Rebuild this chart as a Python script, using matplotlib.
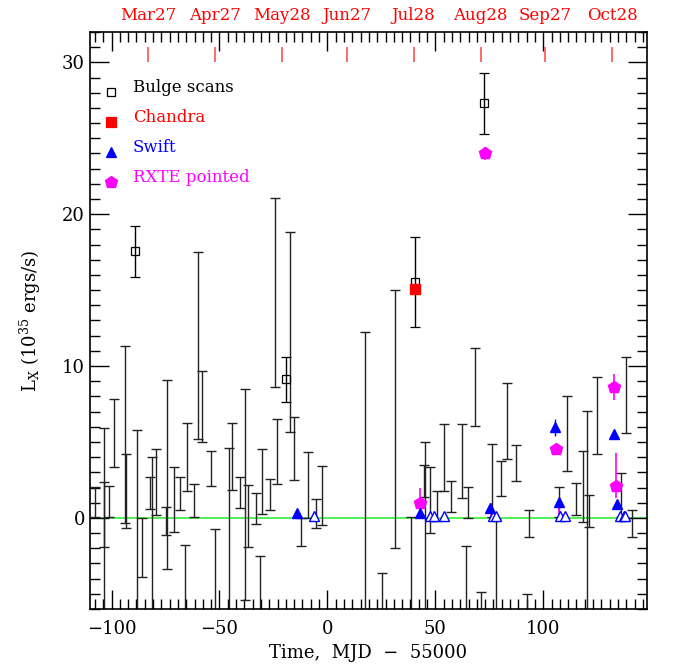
import numpy as np
import matplotlib
matplotlib.use('Agg')
import matplotlib.pyplot as plt
from matplotlib.ticker import MultipleLocator

plt.rcParams['font.family'] = 'DejaVu Serif'
plt.rcParams['mathtext.fontset'] = 'dejavuserif'

# bulge scan upper limits / detections without marker: (time, low, high)
bar_t = [-107.9, -103.7, -103.5, -101.4, -99.1, -94.0, -93.3, -88.1, -86.1, -82.3,
         -81.2, -79.2, -74.2, -75.0, -71.2, -68.1, -66.1, -65.0, -61.6, -59.9,
         -58.0, -54.0, -51.9, -45.4, -44.1, -40.6, -38.0, -36.9, -33.0, -30.2,
         -31.0, -26.4, -23.3, -24.4, -17.4, -15.3, -12.2, -8.9, -5.1, -2.3,
         17.6, 25.3, 31.5, 38.8, 45.4, 44.6, 47.7, 50.8, 53.8, 57.4,
         62.4, 65.1, 64.4, 68.3, 71.3, 76.3, 78.2, 80.4, 83.2, 87.4,
         92.7, 93.2, 107.1, 111.0, 115.0, 118.4, 120.2, 121.1, 125.1, 136.0,
         138.3, 141.3]
bar_hi = [2.06, 5.90, 2.35, 2.11, 7.83, 11.34, 4.21, 5.79, 0.02, 2.70,
          3.99, 4.52, 9.08, 0.70, 3.34, 2.72, -1.76, 6.23, 2.24, 17.5,
          9.67, 4.39, -0.74, 4.59, 6.25, 2.72, 8.49, 2.15, 1.63, 4.52,
          -2.48, 2.59, 6.53, 21.1, 18.8, 6.66, -0.02, 4.34, 1.23, 3.42,
          12.26, -3.64, 15.0, 0.09, 5.02, 3.49, 3.38, 1.80, 6.18, 2.45,
          6.18, 2.02, -1.84, 11.16, -4.85, 4.85, -0.1, 3.75, 8.86, 4.80,
          -5.02, 0.53, 2.06, 8.03, 2.28, 4.43, 7.02, 1.53, 9.30, 2.94,
          10.61, 0.53]
bar_lo = [0.09, -1.89, -9, 0.09, 3.34, -0.31, -0.68, -9, -3.9, 0.59,
          -9, 0.18, -3.40, -1.16, -0.90, 0.53, -9, 1.78, 0.09, 5.2,
          5.02, 2.13, -9, -9, 1.84, 0.68, -5.44, -1.89, -0.41, 0.28,
          -9, 0.53, 2.24, 8.6, 5.64, 2.48, -1.82, -0.02, -0.68, -0.46,
          -9, -9, -1.99, -9, -9, 1.36, -0.97, -0.18, 1.80, 0.41,
          1.30, -0.02, -9, 6.07, -9, 0.07, -9, 1.45, 3.90, 2.43,
          -9, -1.27, 0.07, 3.11, 0.18, -0.24, -9, -0.61, 4.21, 0.07,
          5.57, -1.27]

# bulge scans (detections)
bulge_t = [-89.2, -19.4, 40.7, 72.4]
bulge_l = [17.55, 9.12, 15.55, 27.3]
bulge_e = [1.7, 1.5, 2.97, 2.0]

# Chandra
chandra_t = [40.7]
chandra_l = [15.05]

# Swift detections
swift_t = [-14.0, 43.0, 75.1, 105.6, 107.1, 133.0, 134.4]
swift_l = [0.35, 0.35, 0.64, 5.97, 1.03, 5.5, 0.92]
swift_e = [0.05, 0.05, 0.05, 0.57, 0.05, 0.3, 0.05]

# Swift non-detections (open)
swift_ul_t = [-6.3, 47.7, 49.5, 53.9, 76.7, 78.2, 107.9, 109.9, 135.6, 137.2, 138.0]
swift_ul_l = [0.1] * len(swift_ul_t)

# RXTE pointed
rxte_t = [42.7, 73.1, 106.0, 132.9, 133.8]
rxte_l = [1.0, 24.0, 4.52, 8.6, 2.13]
rxte_lo = [0.95, 0.45, 0.2, 0.86, 0.83]
rxte_hi = [0.95, 0.45, 0.2, 0.86, 2.13]
# RXTE points hidden under the Swift triangles (only the bar shows)
rxte_low_t = [75.6, 107.1]
rxte_low_l = [0.5, 0.5]
rxte_low_e = [0.5, 0.5]

# top axis months
months = ['Mar27', 'Apr27', 'May28', 'Jun27', 'Jul28', 'Aug28', 'Sep27', 'Oct28']
month_t = [-83, -52, -21, 9, 40, 71, 101, 132]

fig = plt.figure(figsize=(6.75, 6.67), dpi=100)
ax = fig.add_axes([0.1333, 0.087, 0.825, 0.865])

bar_t = np.array(bar_t)
bar_hi = np.array(bar_hi)
bar_lo = np.array(bar_lo)
mid = (bar_hi + bar_lo) / 2
half = (bar_hi - bar_lo) / 2
ax.errorbar(bar_t, mid, yerr=half, fmt='none', ecolor='#222222', elinewidth=1,
            capsize=3.5, capthick=1, zorder=2)

ax.axhline(0, color='#33ee33', lw=1.2, zorder=1)

ax.errorbar(bulge_t, bulge_l, yerr=bulge_e, fmt='s', mfc='none', mec='black',
            ms=6, mew=0.9, ecolor='black', elinewidth=1, capsize=3.5, zorder=3)
ax.errorbar(rxte_t, rxte_l, yerr=[rxte_lo, rxte_hi], fmt='p', color='magenta',
            ms=9, ecolor='magenta', elinewidth=1.2, capsize=0, zorder=4)
ax.errorbar(rxte_low_t, rxte_low_l, yerr=rxte_low_e, fmt='none',
            ecolor='magenta', elinewidth=1.2, capsize=0, zorder=4)
ax.plot(chandra_t, chandra_l, 's', color='red', ms=6.5, zorder=5)
ax.errorbar(swift_t, swift_l, yerr=swift_e, fmt='^', color='blue', ms=7,
            ecolor='blue', elinewidth=1, capsize=0, zorder=5)
ax.plot(swift_ul_t, swift_ul_l, '^', mfc='white', mec='blue', ms=7.5, mew=1.0, zorder=5)

# month markers
ax.vlines(month_t, 30, 31, color='#ff5050', lw=1.2)
for m, t in zip(months, month_t):
    ax.text(t, 1.014, m, color='red', fontsize=12, ha='center', va='bottom',
            transform=ax.get_xaxis_transform())

ax.set_xlim(-110, 148)
ax.set_ylim(-6, 32)
ax.xaxis.set_major_locator(MultipleLocator(50))
ax.xaxis.set_minor_locator(MultipleLocator(50 / 13))
ax.yaxis.set_major_locator(MultipleLocator(10))
ax.yaxis.set_minor_locator(MultipleLocator(1))
ax.tick_params(which='both', direction='in', top=True, right=True, width=1)
ax.tick_params(which='major', length=14, labelsize=13)
ax.tick_params(which='minor', length=7)
ax.tick_params(axis='x', pad=8)
for s in ax.spines.values():
    s.set_linewidth(1.2)

ax.set_xlabel('Time,  MJD  −  55000', fontsize=13, labelpad=4)
ax.set_ylabel(r'L$_{\rm X}$ (10$^{35}$ ergs/s)', fontsize=13, labelpad=14)

# legend
rows = [('Bulge scans', 'black', 's', 'none', 5.5),
        ('Chandra', 'red', 's', 'red', 6.5),
        ('Swift', 'blue', '^', 'blue', 7),
        ('RXTE pointed', 'magenta', 'p', 'magenta', 9)]
for i, (lab, c, mk, fc, ms) in enumerate(rows):
    yy = 0.896 - i * 0.052
    ax.plot([0.038], [yy], mk, mfc=fc, mec=c, ms=ms, mew=0.9, transform=ax.transAxes)
    ax.text(0.077, yy + 0.008, lab, color=c, fontsize=12, va='center', transform=ax.transAxes)

plt.savefig('out.png')
